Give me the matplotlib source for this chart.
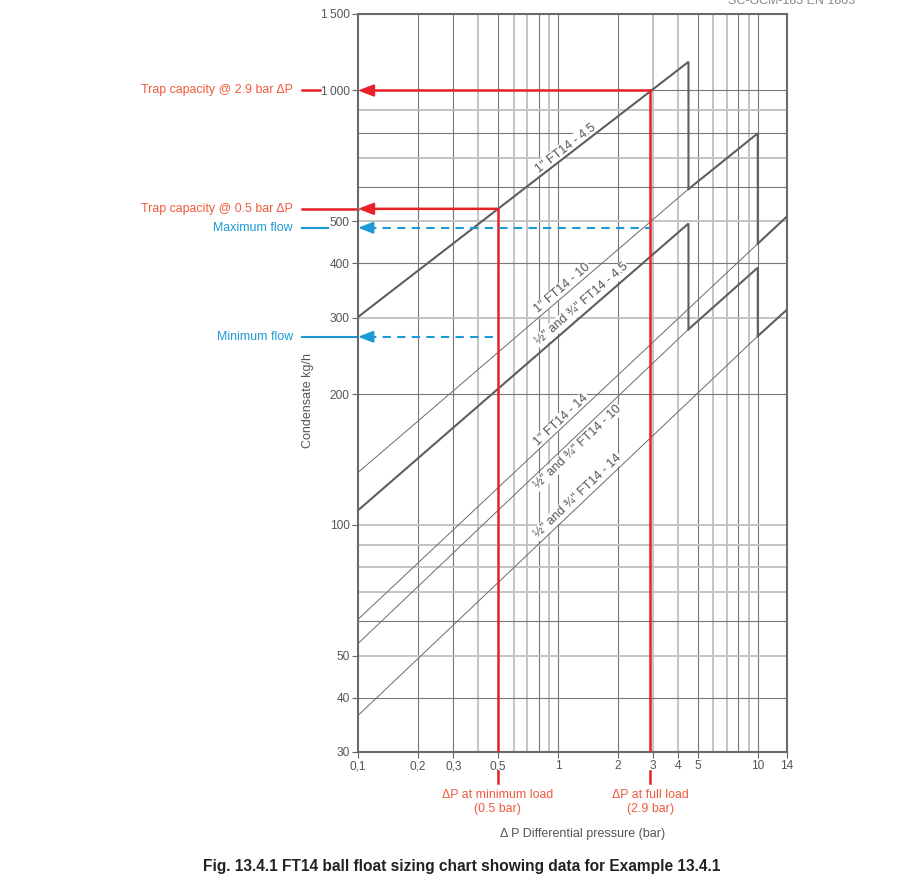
import numpy as np
import matplotlib
matplotlib.use('Agg')
import matplotlib.pyplot as plt

plt.rcParams['font.family'] = ['Liberation Sans', 'DejaVu Sans']

# Axis ticks
x_ticks = [0.1, 0.2, 0.3, 0.5, 1, 2, 3, 4, 5, 10, 14]
x_tick_labels = ['0,1', '0,2', '0,3', '0,5', '1', '2', '3', '4', '5', '10', '14']
y_ticks = [30, 40, 50, 100, 200, 300, 400, 500, 1000, 1500]
y_tick_labels = ['30', '40', '50', '100', '200', '300', '400', '500', '1\u2009000', '1\u2009500']

# Grid lines (dark / light)
x_grid_dark = [0.2, 0.3, 0.5, 0.8, 1, 2, 5, 8, 10]
x_grid_light = [0.4, 0.6, 0.7, 0.9, 3, 4, 6, 7, 9]
y_grid_dark = [40, 60, 200, 400, 600, 800, 1000]
y_grid_light = [50, 70, 80, 90, 100, 300, 500, 700, 900]

# Trap capacity lines: thin = below range, thick = working range
ft45_1in_x = [0.1, 4.5, 4.5]
ft45_1in_y = [301, 1164, 593]
ft10_1in_thin_x = [0.1, 4.5]
ft10_1in_thin_y = [132, 593]
ft10_1in_x = [4.5, 10, 10]
ft10_1in_y = [593, 797, 444]
ft14_1in_thin_x = [0.1, 10]
ft14_1in_thin_y = [60.6, 444]
ft14_1in_x = [10, 14]
ft14_1in_y = [444, 513]

ft45_half_x = [0.1, 4.5, 4.5]
ft45_half_y = [108, 494, 282]
ft10_half_thin_x = [0.1, 4.5]
ft10_half_thin_y = [53.3, 282]
ft10_half_x = [4.5, 10, 10]
ft10_half_y = [282, 391, 272]
ft14_half_thin_x = [0.1, 10]
ft14_half_thin_y = [36.4, 272]
ft14_half_x = [10, 14]
ft14_half_y = [272, 313]

# Example 13.4.1
dp_min, cap_min = 0.5, 534
dp_full, cap_full = 2.9, 1000
max_flow = 483
min_flow = 271

red = '#e8202a'
red_txt = '#ef5a3c'
blue = '#1b9ad6'
dark = '#777777'
light = '#c4c4c4'
txt = '#555555'

fig = plt.figure(figsize=(9, 8.89), dpi=100)
ax = fig.add_axes([358 / 900, 137 / 889, 429 / 900, 738 / 889])
ax.set_xscale('log')
ax.set_yscale('log')
ax.set_xlim(0.1, 14)
ax.set_ylim(30, 1500)

for v in x_grid_light:
    ax.axvline(v, color=light, lw=1.4, zorder=1)
for v in x_grid_dark:
    ax.axvline(v, color=dark, lw=0.8, zorder=1)
for v in y_grid_light:
    ax.axhline(v, color=light, lw=1.4, zorder=1)
for v in y_grid_dark:
    ax.axhline(v, color=dark, lw=0.8, zorder=1)

ax.set_xticks(x_ticks)
ax.set_xticklabels(x_tick_labels)
ax.set_yticks(y_ticks)
ax.set_yticklabels(y_tick_labels)
ax.minorticks_off()
ax.tick_params(length=4, width=0.8, color='#666666', labelcolor=txt,
               labelsize=8.6, pad=2)
for s in ax.spines.values():
    s.set_color('#6a6a6a')
    s.set_linewidth(1.5)

thin = dict(color='#6b6b6b', lw=0.7, zorder=3)
thick = dict(color='#5e5e5e', lw=1.5, zorder=3, solid_joinstyle='miter')
ax.plot(ft45_1in_x, ft45_1in_y, **thick)
ax.plot(ft10_1in_thin_x, ft10_1in_thin_y, **thin)
ax.plot(ft10_1in_x, ft10_1in_y, **thick)
ax.plot(ft14_1in_thin_x, ft14_1in_thin_y, **thin)
ax.plot(ft14_1in_x, ft14_1in_y, **thick)
ax.plot(ft45_half_x, ft45_half_y, **thick)
ax.plot(ft10_half_thin_x, ft10_half_thin_y, **thin)
ax.plot(ft10_half_x, ft10_half_y, **thick)
ax.plot(ft14_half_thin_x, ft14_half_thin_y, **thin)
ax.plot(ft14_half_x, ft14_half_y, **thick)

# Line labels
labels = [
    ('1" FT14 - 4.5', ft45_1in_x[:2], ft45_1in_y[:2], 1.09, 6.3),
    ('1" FT14 - 10', ft10_1in_thin_x, ft10_1in_thin_y, 1.056, 6.0),
    ('½" and ¾" FT14 - 4.5', ft45_half_x[:2], ft45_half_y[:2], 1.316, 8.6),
    ('1" FT14 - 14', ft14_1in_thin_x, ft14_1in_thin_y, 1.044, 6.0),
    ('½" and ¾" FT14 - 10', ft10_half_thin_x, ft10_half_thin_y, 1.257, -8.8),
    ('½" and ¾" FT14 - 14', ft14_half_thin_x, ft14_half_thin_y, 1.257, 7.9),
]
for text, xs, ys, lx, dy in labels:
    ly = 10 ** np.interp(np.log10(lx), np.log10(xs), np.log10(ys))
    p0 = ax.transData.transform((xs[0], ys[0]))
    p1 = ax.transData.transform((xs[1], ys[1]))
    ang = np.degrees(np.arctan2(p1[1] - p0[1], p1[0] - p0[0]))
    ax.annotate(text, xy=(lx, ly), xytext=(0, dy), textcoords='offset points',
                rotation=ang, rotation_mode='anchor', ha='center', va='center',
                fontsize=9, color=txt, zorder=2,
                bbox=dict(fc='white', ec='none', pad=0.6))

# Red example lines
arrow_red = dict(arrowstyle='-|>,head_length=0.9,head_width=0.35', color=red,
                 lw=1.8, shrinkA=0, shrinkB=0, mutation_scale=10)
for dp, cap in [(dp_min, cap_min), (dp_full, cap_full)]:
    ax.plot([dp, dp], [cap, 30], color=red, lw=1.8, zorder=4)
    ax.annotate('', xy=(0.1, cap), xytext=(dp, cap), arrowprops=arrow_red, zorder=4)
    ax.plot([dp, dp], [-0.0253, -0.0416], color=red, lw=1.8,
            transform=ax.get_xaxis_transform(), clip_on=False)

# Blue dashed flow lines
arrow_blue = dict(arrowstyle='-|>,head_length=0.9,head_width=0.35', color=blue,
                  lw=1.5, shrinkA=0, shrinkB=0, mutation_scale=10)
for flow, dp in [(max_flow, dp_full), (min_flow, dp_min)]:
    ax.plot([0.112, dp], [flow, flow], color=blue, lw=1.5, dashes=(4, 3), zorder=4)
    ax.annotate('', xy=(0.1, flow), xytext=(0.118, flow), arrowprops=arrow_blue, zorder=4)

# Left-hand annotations
ytr = ax.get_yaxis_transform()
ax.plot([-0.1305, -0.0886], [cap_full, cap_full], color=red, lw=1.8, transform=ytr, clip_on=False)
ax.plot([-0.1305, 0], [cap_min, cap_min], color=red, lw=1.8, transform=ytr, clip_on=False)
ax.plot([-0.1305, -0.07], [max_flow, max_flow], color=blue, lw=1.5, transform=ytr, clip_on=False)
ax.plot([-0.1305, 0], [min_flow, min_flow], color=blue, lw=1.5, transform=ytr, clip_on=False)

ax.text(-0.1515, cap_full, 'Trap capacity @ 2.9 bar ΔP', transform=ytr,
        ha='right', va='center', fontsize=8.9, color=red_txt)
ax.text(-0.1515, cap_min, 'Trap capacity @ 0.5 bar ΔP', transform=ytr,
        ha='right', va='center', fontsize=8.9, color=red_txt)
ax.text(-0.1515, max_flow, 'Maximum flow', transform=ytr,
        ha='right', va='center', fontsize=8.9, color=blue)
ax.text(-0.1515, min_flow, 'Minimum flow', transform=ytr,
        ha='right', va='center', fontsize=8.9, color=blue)

# Bottom annotations
xtr = ax.get_xaxis_transform()
ax.text(dp_min, -0.0675, 'ΔP at minimum load\n(0.5 bar)', transform=xtr,
        ha='center', va='center', fontsize=8.9, color=red_txt, linespacing=1.25)
ax.text(dp_full, -0.0675, 'ΔP at full load\n(2.9 bar)', transform=xtr,
        ha='center', va='center', fontsize=8.9, color=red_txt, linespacing=1.25)

fig.text(583 / 900, 1 - 834.3 / 889, 'Δ P Differential pressure (bar)',
         ha='center', va='center', fontsize=9, color=txt)
fig.text(308.3 / 900, 1 - 400.7 / 889, 'Condensate kg/h', rotation=90,
         ha='center', va='center', fontsize=9, color=txt)
fig.text(462 / 900, 1 - 866 / 889,
         'Fig. 13.4.1 FT14 ball float sizing chart showing data for Example 13.4.1',
         ha='center', va='center', fontsize=11.2, fontweight='bold', color='#222222')
fig.text(792 / 900, 1 - 4 / 889, 'SC-GCM-183 EN 1803', ha='center', va='baseline',
         fontsize=9, color='#888888')

fig.savefig('out.png', dpi=100)
